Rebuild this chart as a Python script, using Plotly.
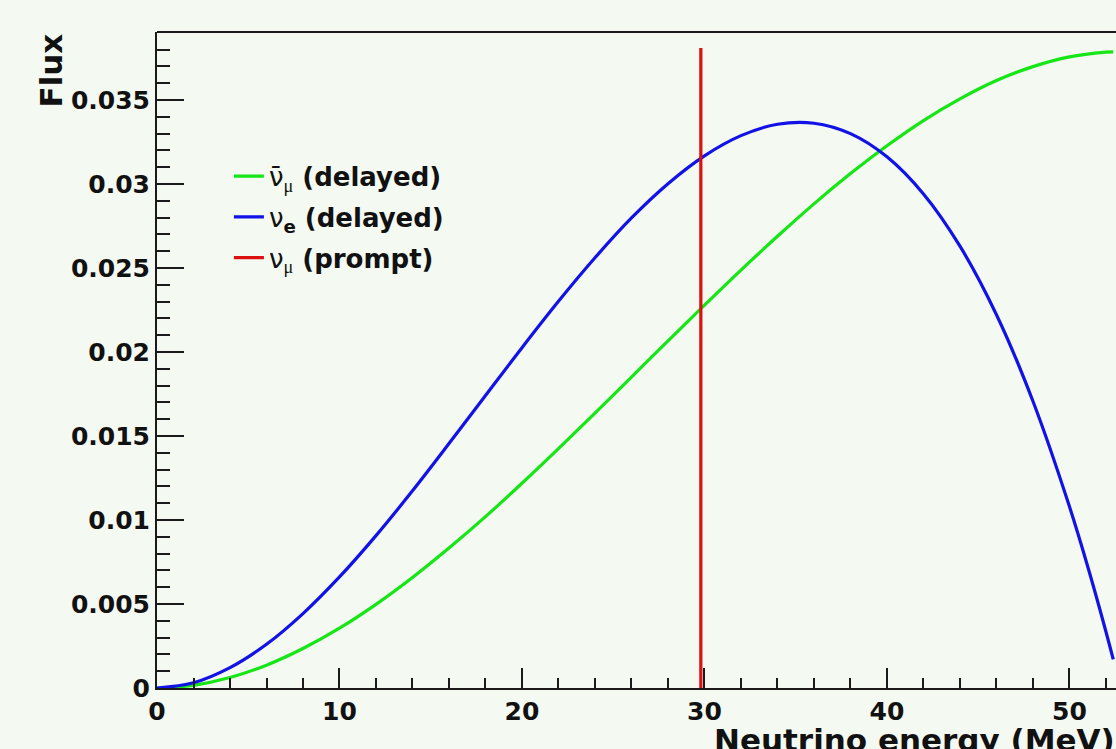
import plotly.graph_objects as go

# Neutrino energy (MeV) sample points
energy = [0, 2, 4, 6, 8, 10, 12, 14, 16, 18, 20, 22, 24, 26, 28, 30, 32, 34, 36,
          38, 40, 42, 44, 46, 48, 50, 51, 52, 52.4]

# nu_e (delayed) flux
flux_nue = [0.0, 0.00031, 0.00121, 0.0026, 0.00443, 0.00661, 0.00907, 0.01174,
            0.01455, 0.01741, 0.02026, 0.02302, 0.02561, 0.02798, 0.03002,
            0.03168, 0.03288, 0.03356, 0.03362, 0.0330, 0.03162, 0.02941,
            0.0263, 0.02222, 0.01707, 0.0108, 0.00723, 0.00335, 0.0017]

# anti-nu_mu (delayed) flux
energy_numubar = [0, 2, 4, 6, 8, 10, 12, 14, 16, 18, 20, 22, 24, 26, 28, 30, 32,
                  34, 36, 38, 40, 42, 44, 46, 48, 50, 52, 52.4]
flux_numubar = [0.0, 0.00016, 0.00062, 0.00136, 0.00235, 0.00356, 0.00498,
                0.00658, 0.00833, 0.0102, 0.01219, 0.01425, 0.01636, 0.01851,
                0.02066, 0.02279, 0.02488, 0.02689, 0.02882, 0.03062, 0.03228,
                0.03378, 0.03507, 0.03616, 0.03699, 0.03757, 0.03785, 0.03787]

# nu_mu (prompt) monochromatic line
prompt_energy = [29.8, 29.8]
prompt_flux = [0.0, 0.0381]

x_ticks = [0, 10, 20, 30, 40, 50]
y_ticks = [0, 0.005, 0.01, 0.015, 0.02, 0.025, 0.03, 0.035]
y_tick_text = ["0", "0.005", "0.01", "0.015", "0.02", "0.025", "0.03", "0.035"]

GREEN = "#16e616"
BLUE = "#1212e6"
RED = "#dd1010"
BG = "#f4f9f1"
AX = "#1a1a1a"
FONT = "DejaVu Sans"

nu = '<span style="font-family:DejaVu Sans;font-weight:normal;font-size:26px">{}</span>'
sub = '<sub><span style="font-family:Liberation Serif;font-weight:normal">{}</span></sub>'

fig = go.Figure()
fig.add_trace(go.Scatter(
    x=energy_numubar, y=flux_numubar, mode="lines", line_shape="spline",
    line=dict(color=GREEN, width=3.2),
    name=nu.format("\u03bd\u0304") + sub.format("\u03bc") + " (delayed)",
    legendgroup="a"))
fig.add_trace(go.Scatter(
    x=energy, y=flux_nue, mode="lines", line_shape="spline",
    line=dict(color=BLUE, width=3.2),
    name=nu.format("\u03bd") + "<sub>e</sub> (delayed)",
    legendgroup="b"))
fig.add_trace(go.Scatter(
    x=prompt_energy, y=prompt_flux, mode="lines",
    line=dict(color=RED, width=3.2),
    name=nu.format("\u03bd") + sub.format("\u03bc") + " (prompt)",
    legendgroup="c"))

fig.update_layout(
    width=1116, height=749,
    margin=dict(l=157, r=0, t=32, b=61),
    paper_bgcolor=BG, plot_bgcolor=BG,
    showlegend=True,
    legend=dict(x=0.075, y=0.816, xanchor="left", yanchor="top",
                bgcolor="rgba(0,0,0,0)", borderwidth=0,
                font=dict(family=FONT, size=26, color="#111", weight="bold"),
                tracegroupgap=4, itemwidth=30, traceorder="grouped"),
    font=dict(family=FONT, color="#111"),
)

fig.update_xaxes(
    range=[0, 52.55], tickvals=x_ticks, ticktext=[str(v) for v in x_ticks],
    showgrid=False, zeroline=False,
    showline=True, linecolor=AX, linewidth=2,
    ticks="inside", ticklen=20, tickwidth=1.5, tickcolor=AX,
    tickfont=dict(family=FONT, size=25, color="#111", weight="bold"),
    minor=dict(ticks="inside", ticklen=10, tickwidth=1.5, tickcolor=AX,
               dtick=2, tick0=0, showgrid=False),
)
fig.update_yaxes(
    range=[0, 0.03905], tickvals=y_ticks, ticktext=y_tick_text,
    showgrid=False, zeroline=False,
    showline=True, linecolor=AX, linewidth=2,
    ticks="inside", ticklen=27, tickwidth=1.5, tickcolor=AX,
    tickfont=dict(family=FONT, size=25, color="#111", weight="bold"),
    minor=dict(ticks="inside", ticklen=13, tickwidth=1.5, tickcolor=AX,
               dtick=0.001, tick0=0, showgrid=False),
)

# top frame line
fig.add_shape(type="line", xref="paper", yref="paper", x0=0, x1=1, y0=1, y1=1,
              line=dict(color=AX, width=2))

# axis titles (ROOT style: aligned to the end of the axes)
fig.add_annotation(text="Flux", xref="paper", yref="paper",
                   x=-0.111, y=1.0, xanchor="center", yanchor="top",
                   textangle=-90, showarrow=False,
                   font=dict(family=FONT, size=31, color="#111", weight="bold"))
fig.add_annotation(text="Neutrino energy (MeV)", xref="paper", yref="paper",
                   x=0.579, y=-0.049, xanchor="left", yanchor="top",
                   showarrow=False,
                   font=dict(family=FONT, size=31, color="#111", weight="bold"))

fig.write_html("out.html",
               config={"displayModeBar": False},
               post_script="document.body.style.margin='0';"
                           "document.body.style.background='" + BG + "';")
